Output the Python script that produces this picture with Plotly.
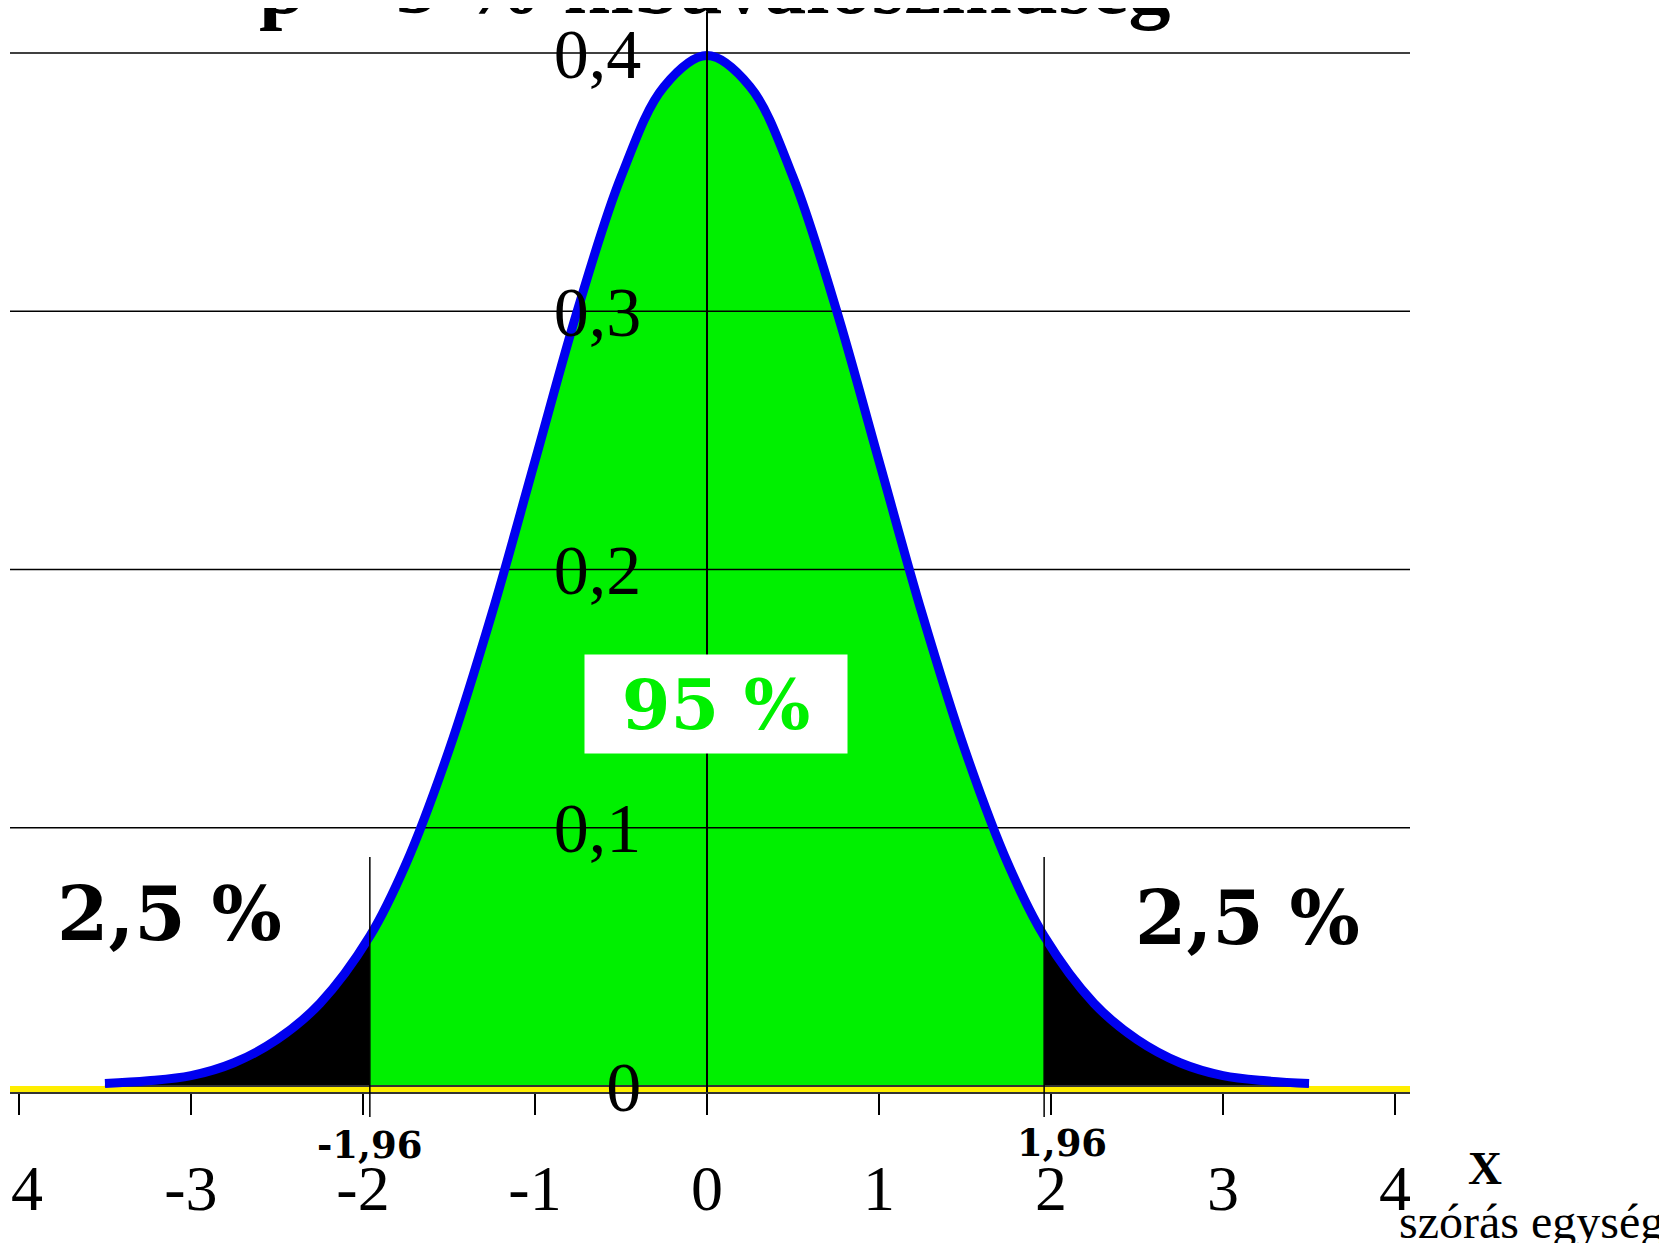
import plotly.graph_objects as go

# normal density (x in "szórás egység")
x_pts = [-3.5, -3.25, -3.0, -2.75, -2.5, -2.25, -1.96, -1.75, -1.5, -1.25, -1.0, -0.75, -0.5, -0.25,
         0.0, 0.25, 0.5, 0.75, 1.0, 1.25, 1.5, 1.75, 1.96, 2.25, 2.5, 2.75, 3.0, 3.25, 3.5]
y_pts = [0.001, 0.002, 0.004, 0.009, 0.018, 0.032, 0.058, 0.086, 0.130, 0.183, 0.242, 0.301, 0.352, 0.387,
         0.399, 0.387, 0.352, 0.301, 0.242, 0.183, 0.130, 0.086, 0.058, 0.032, 0.018, 0.009, 0.004, 0.002, 0.001]

critical = [-1.96, 1.96]
critical_labels = ['-1,96', '1,96']
x_ticks = [-4, -3, -2, -1, 0, 1, 2, 3, 4]
x_tick_labels = ['\u00a04', '-3', '-2', '-1', '0', '1', '2', '3', '4']
y_ticks = [0, 0.1, 0.2, 0.3, 0.4]
y_tick_labels = ['0', '0,1', '0,2', '0,3', '0,4']
tail_text = '2,5 %'
middle_text = '95 %'
title_text = 'p = 5 % hibavalószínűség'

XR = [-4.052, 4.087]
YR = [-0.00232, 0.41588]

GREEN = '#00f000'
BLUE = '#0000f0'
SERIF = 'Liberation Serif'
HEAVY = 'DejaVu Serif'

pts = list(zip(x_pts, y_pts))
left = [p for p in pts if p[0] <= critical[0]]
mid = [p for p in pts if critical[0] <= p[0] <= critical[1]]
right = [p for p in pts if p[0] >= critical[1]]

fig = go.Figure()

# filled regions
for seg, col in [(left, 'black'), (mid, GREEN), (right, 'black')]:
    fig.add_trace(go.Scatter(
        x=[p[0] for p in seg], y=[p[1] for p in seg],
        mode='lines', line=dict(width=0, shape='spline', smoothing=1),
        fill='tozeroy', fillcolor=col, hoverinfo='skip'))

# horizontal grid lines (over the fill, under the curve)
gx, gy = [], []
for v in y_ticks[1:]:
    gx += [XR[0], XR[1], None]
    gy += [v, v, None]
fig.add_trace(go.Scatter(x=gx, y=gy, mode='lines', line=dict(color='black', width=1.5), hoverinfo='skip'))

# thin base under the curve
fig.add_trace(go.Scatter(x=[x_pts[0], x_pts[-1]], y=[0, 0], mode='lines',
                         line=dict(color='#333333', width=2), hoverinfo='skip'))

# density curve
fig.add_trace(go.Scatter(x=x_pts, y=y_pts, mode='lines',
                         line=dict(color=BLUE, width=9, shape='spline', smoothing=1), hoverinfo='skip'))

# yellow x axis band
fig.add_hline(y=-0.00116, line=dict(color='#ffee00', width=6), layer='below')

# critical value lines
for c in critical:
    fig.add_shape(type='line', xref='x', yref='paper', x0=c, x1=c, y0=-0.0231, y1=0.2176,
                  line=dict(color='black', width=1.5), layer='above')

# annotations
def note(text, x, y, font, xref='x', yref='y', **kw):
    fig.add_annotation(x=x, y=y, xref=xref, yref=yref, text=text, showarrow=False,
                       xanchor='center', yanchor='middle', font=font, **kw)

note(tail_text, -3.122, 0.0667, dict(family=HEAVY, size=74, color='black', weight='bold'))
note(tail_text, 3.140, 0.0652, dict(family=HEAVY, size=74, color='black', weight='bold'))
note(middle_text, 0.055, 0.1478, dict(family=HEAVY, size=70, color=GREEN, weight='bold'),
     bgcolor='white', width=260, height=96)
note(critical_labels[0], critical[0], -0.0491, dict(family=HEAVY, size=37, color='black', weight='bold'),
     yref='paper')
note(critical_labels[1], critical[1], -0.0470, dict(family=HEAVY, size=37, color='black', weight='bold'),
     yref='paper', xshift=18)
note('X', 1.0536, -0.0703, dict(family=SERIF, size=47, color='black', weight='bold'),
     xref='paper', yref='paper')
note('szórás egység', 1.0868, -0.1200, dict(family=SERIF, size=48, color='black'),
     xref='paper', yref='paper')
note(title_text, 0.5029, 1.0254, dict(family=SERIF, size=84, color='black', weight='bold'),
     xref='paper', yref='paper')

fig.update_layout(
    width=1651, height=1235,
    margin=dict(l=2, r=249, t=4, b=151),
    paper_bgcolor='white', plot_bgcolor='white',
    showlegend=False,
    xaxis=dict(range=XR, showgrid=False, zeroline=False, automargin=False,
               showline=True, linecolor='#333333', linewidth=1.5,
               ticks='outside', ticklen=21, tickwidth=1.5, tickcolor='black',
               tickvals=x_ticks, ticktext=x_tick_labels, ticklabelstandoff=18,
               ticklabeloverflow='allow',
               tickfont=dict(family=SERIF, size=64, color='black')),
    yaxis=dict(range=YR, anchor='free', position=-XR[0] / (XR[1] - XR[0]),
               showgrid=False, zeroline=False, automargin=False,
               showline=True, linecolor='black', linewidth=1.5, layer='above traces',
               ticks='', tickvals=y_ticks, ticktext=y_tick_labels, ticklabelstandoff=51,
               tickfont=dict(family=SERIF, size=70, color='black')),
)

fig.write_html('out.html')
